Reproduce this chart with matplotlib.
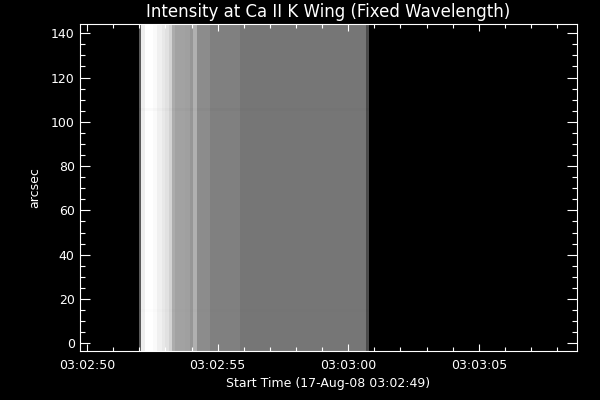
import matplotlib
matplotlib.use('Agg')
import matplotlib.pyplot as plt
import numpy as np
from matplotlib.ticker import MultipleLocator, FuncFormatter

# Column edges of the image, in seconds after 03:02:00
col_edges = [51.985, 52.061, 52.215, 52.533, 52.663, 52.854, 52.981, 53.146,
             53.238, 53.364, 53.747, 53.939, 54.054, 54.195, 54.705, 55.854,
             60.682, 60.797]
# Intensity of each column (0-255 grey)
col_vals = [90, 238, 255, 250, 240, 232, 225, 210, 172, 162, 160, 150, 176,
            140, 128, 118, 75]
# Image rows (arcsec) and a faint per-row brightness factor
row_edges = [-3.5, 14.0, 15.5, 104.8, 106.3, 144.3]
row_factor = [1.0, 0.99, 1.0, 0.98, 1.0]

title = "Intensity at Ca II K Wing (Fixed Wavelength)"
xlabel = "Start Time (17-Aug-08 03:02:49)"
ylabel = "arcsec"

fig = plt.figure(figsize=(6, 4), dpi=100, facecolor='black')
ax = fig.add_axes([80.3/600, 1-351/400, (576.7-80.3)/600, (351-23.7)/400])
ax.set_facecolor('black')

Z = np.outer(row_factor, col_vals).astype(float)
ax.pcolormesh(col_edges, row_edges, Z, cmap='gray', vmin=0, vmax=255,
              shading='flat')

ax.set_xlim(49.74, 68.75)
ax.set_ylim(-3.5, 144.3)

def fmt(v, pos):
    total = int(round(v))
    m = 2 + total // 60
    s = total % 60
    return f"03:{m:02d}:{s:02d}"

ax.xaxis.set_major_locator(MultipleLocator(5))
ax.xaxis.set_minor_locator(MultipleLocator(1))
ax.xaxis.set_major_formatter(FuncFormatter(fmt))
ax.yaxis.set_major_locator(MultipleLocator(20))
ax.yaxis.set_minor_locator(MultipleLocator(5))

for sp in ax.spines.values():
    sp.set_color('white')
    sp.set_linewidth(0.8)

ax.tick_params(axis='x', which='major', direction='in', length=5, width=0.8,
               colors='white', top=True, labelsize=9, pad=6)
ax.tick_params(axis='x', which='minor', direction='in', length=2.6, width=0.8,
               colors='white', top=True)
ax.tick_params(axis='y', which='major', direction='in', length=7.2, width=0.8,
               colors='white', right=True, labelsize=9, pad=4)
ax.tick_params(axis='y', which='minor', direction='in', length=3.8, width=0.8,
               colors='white', right=True)

ax.set_title(title, color='white', fontsize=12, pad=4.5)
ax.set_xlabel(xlabel, color='white', fontsize=9, labelpad=3)
ax.set_ylabel(ylabel, color='white', fontsize=9, labelpad=7)

fig.savefig('out.png', dpi=100, facecolor='black')
